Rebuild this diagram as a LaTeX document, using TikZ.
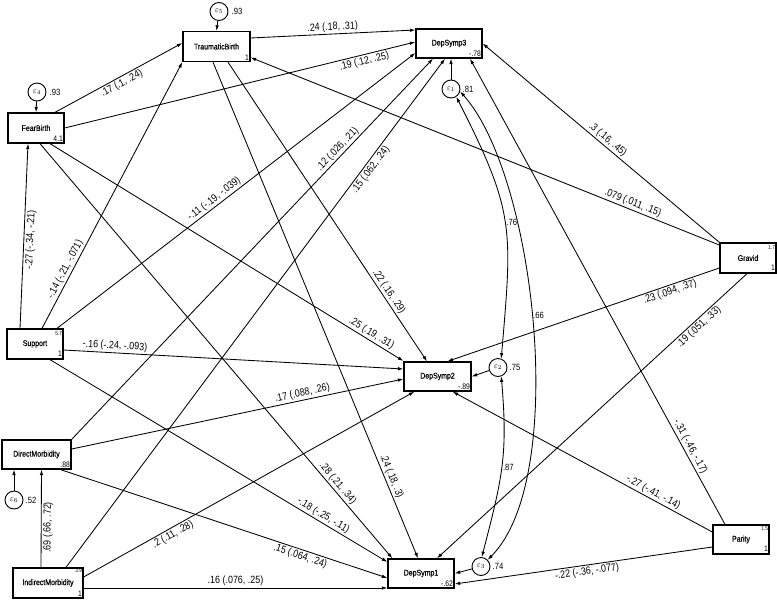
\documentclass[tikz,border=0pt]{standalone}
\usepackage{fontspec}
\setmainfont{Liberation Sans}[FakeStretch=0.85]
\newfontfamily\boxfont{Liberation Sans}[FakeStretch=0.85,FakeBold=0.6]
\usetikzlibrary{arrows.meta,calc}
\begin{document}
\begin{tikzpicture}[x=1pt,y=-1pt,
  box/.style={draw,line width=1.3pt,inner sep=0pt,font=\boxfont\fontsize{8.2}{9}\selectfont},
  err/.style={draw,circle,line width=0.9pt,minimum size=18pt,inner sep=0pt,font=\fontsize{8}{9}\selectfont},
  pth/.style={line width=0.85pt,-{Latex[length=5.5pt,width=3.6pt]}},
  cov/.style={line width=0.85pt,{Latex[length=5.5pt,width=3.6pt]}-{Latex[length=5.5pt,width=3.6pt]}},
  lab/.style={font=\fontsize{10.5}{11}\selectfont,inner sep=1.5pt,sloped},
  clab/.style={font=\fontsize{9}{10}\selectfont,inner sep=1pt,anchor=west},
  num/.style={font=\fontsize{8}{9}\selectfont,inner sep=0pt},
  sml/.style={font=\fontsize{5.5}{6}\selectfont,inner sep=0pt},
  var/.style={font=\fontsize{9}{10}\selectfont,inner sep=0pt,anchor=west},
]
\fill[white] (0,0) rectangle (777,600);
\useasboundingbox (0,0) rectangle (777,600);

% observed variables
\node[box,minimum width=67pt,minimum height=30pt] (tb) at (216.5,46.5) {TraumaticBirth};
\node[box,minimum width=56pt,minimum height=30pt] (fb) at (36,128) {FearBirth};
\node[box,minimum width=66pt,minimum height=29pt] (ds3) at (449,43.5) {DepSymp3};
\node[box,minimum width=56pt,minimum height=30pt] (gr) at (748,258) {Gravid};
\node[box,minimum width=56pt,minimum height=30pt] (su) at (35,344) {Support};
\node[box,minimum width=67pt,minimum height=29pt] (ds2) at (437.5,376.5) {DepSymp2};
\node[box,minimum width=66pt,minimum height=29pt] (ds1) at (421,573.5) {DepSymp1};
\node[box,minimum width=69pt,minimum height=29pt] (dm) at (36.5,454.5) {DirectMorbidity};
\node[box,minimum width=70pt,minimum height=30pt] (im) at (48,583) {IndirectMorbidity};
\node[box,minimum width=56pt,minimum height=29pt] (pa) at (741,539.5) {Parity};

% corner values
\node[num,anchor=south east] (tbv) at ([xshift=-1.5pt,yshift=1.5pt]tb.south east) {1};
\node[num,anchor=south east] (fbv) at ([xshift=-1.5pt,yshift=1.5pt]fb.south east) {4.1};
\node[num,anchor=south east] (ds3v) at ([xshift=-1.5pt,yshift=1.5pt]ds3.south east) {-.78};
\node[num,anchor=south east] (grv) at ([xshift=-1.5pt,yshift=2.5pt]gr.south east) {1};
\node[sml,anchor=north east] (grm) at ([xshift=-1.5pt,yshift=-3pt]gr.north east) {1.7};
\node[num,anchor=south east] (suv) at ([xshift=-1.5pt,yshift=2.5pt]su.south east) {1};
\node[sml,anchor=north east] (sum) at ([xshift=-1.5pt,yshift=-3pt]su.north east) {5.7};
\node[num,anchor=south east] (ds2v) at ([xshift=-1.5pt,yshift=1.5pt]ds2.south east) {-.89};
\node[num,anchor=south east] (ds1v) at ([xshift=-1.5pt,yshift=1.5pt]ds1.south east) {-.62};
\node[num,anchor=south east] (dmv) at ([xshift=-1.5pt,yshift=1.5pt]dm.south east) {.88};
\node[num,anchor=south east] (imv) at ([xshift=-1.5pt,yshift=1.5pt]im.south east) {1};
\node[sml,anchor=north east] (imm) at ([xshift=-1.5pt,yshift=-1.5pt]im.north east) {3.9};
\node[num,anchor=south east] (pav) at ([xshift=-1.5pt,yshift=2.5pt]pa.south east) {1};
\node[sml,anchor=north east] (pam) at ([xshift=-1.5pt,yshift=-2pt]pa.north east) {1.5};

% error terms
\node[err] (e5) at (219,11.5) {$\varepsilon_5$};
\node[err] (e4) at (37,92) {$\varepsilon_4$};
\node[err] (e1) at (451,89) {$\varepsilon_1$};
\node[err] (e2) at (498,367.5) {$\varepsilon_2$};
\node[err] (e3) at (481,566.5) {$\varepsilon_3$};
\node[err] (e6) at (14,500) {$\varepsilon_6$};
\node[var] (e5v) at ([xshift=3pt]e5.east) {.93};
\node[var] (e4v) at ([xshift=3pt]e4.east) {.93};
\node[var] (e1v) at ([xshift=2pt]e1.east) {.81};
\node[var] (e2v) at ([xshift=2pt]e2.east) {.75};
\node[var] (e3v) at ([xshift=2pt]e3.east) {.74};
\node[var] (e6v) at ([xshift=2pt]e6.east) {.52};

% error arrows
\draw[pth] (e5) -- (tb.north);
\draw[pth] (e4) -- (fb.north);
\draw[pth] (e1) -- ([xshift=2pt]ds3.south);
\draw[pth] (e2) -- (ds2.east);
\draw[pth] (e3) -- (ds1.east);
\draw[pth] (e6) -- ([xshift=-22.5pt]dm.south);

% paths
\draw[pth] ([xshift=19pt]fb.north) -- ([yshift=3.5pt]tb.west) node[lab,pos=0.5,below]{.17 (.1, .24)};
\draw[pth] (fb.east) -- ([yshift=1.5pt]ds3.west) node[lab,pos=0.85,below]{.19 (.12, .25)};
\draw[pth] ([yshift=8.5pt]tb.east) -- ([yshift=13.5pt]ds3.west) node[lab,pos=0.5,above]{.24 (.18, .31)};
\draw[pth] ([xshift=-15pt]su.north) -- ([xshift=-8pt]fb.south) node[lab,pos=0.48,below]{-.27 (-.34, -.21)};
\draw[pth] ([xshift=7pt]su.north) -- (tb.south west) node[lab,pos=0.21,above]{-.14 (-.21, -.071)};
\draw[pth] ([xshift=22pt]su.north) -- ([yshift=-9.5pt]ds3.west) node[lab,pos=0.45,above]{-.11 (-.19, -.039)};
\draw[pth] (dm.north east) -- ([xshift=-16pt]ds3.south) node[lab,pos=0.75,above]{.12 (.026, .21)};
\draw[pth] ([xshift=18pt]im.north) -- ([xshift=-4pt]ds3.south) node[lab,pos=0.79,below]{.15 (.062, .24)};
\draw[pth] (gr.north west) -- (ds3.east) node[lab,pos=0.49,above]{.3 (.16, .45)};
\draw[pth] ([xshift=-16pt]pa.north) -- ([xshift=21pt]ds3.south) node[lab,pos=0.16,above]{-.31 (-.46, -.17)};
\draw[pth] ([yshift=13pt]gr.west) -- ([yshift=-11pt]tb.east) node[lab,pos=0.19,above]{.079 (.011, .15)};
\draw[pth] ([xshift=14pt]fb.south) -- ([yshift=15.5pt]ds2.west) node[lab,pos=0.9,above]{.25 (.19, .31)};
\draw[pth] ([xshift=4pt]fb.south) -- ([xshift=5pt]ds1.north west) node[lab,pos=0.83,above]{.28 (.21, .34)};
\draw[pth] ([xshift=11.5pt]tb.south) -- ([xshift=-10.5pt]ds2.north) node[lab,pos=0.78,above]{.22 (.16, .29)};
\draw[pth] ([xshift=-3.5pt]tb.south) -- ([xshift=-3pt]ds1.north) node[lab,pos=0.84,above]{.24 (.18, .3)};
\draw[pth] ([yshift=-6pt]su.east) -- ([yshift=7.5pt]ds2.west) node[lab,pos=0.15,above]{-.16 (-.24, -.093)};
\draw[pth] ([yshift=5.5pt]dm.east) -- ([yshift=-2.5pt]ds2.west) node[lab,pos=0.7,above]{.17 (.088, .26)};
\draw[pth] ([yshift=6pt]im.east) -- ([xshift=11pt]ds2.south west) node[lab,pos=0.26,below]{.2 (.11, .28)};
\draw[pth] ([yshift=-10pt]gr.west) -- ([xshift=10pt]ds2.north) node[lab,pos=0.19,below]{.23 (.094, .37)};
\draw[pth] ([yshift=7.5pt]pa.west) -- ([xshift=-19pt]ds2.south east) node[lab,pos=0.24,above]{-.27 (-.41, -.14)};
\draw[pth] ([xshift=15pt]su.south) -- ([yshift=11.5pt]ds1.west) node[lab,pos=0.8,above]{-.18 (-.25, -.11)};
\draw[pth] ([xshift=-11pt]dm.south east) -- ([yshift=-4.5pt]ds1.west) node[lab,pos=0.74,below]{.15 (.064, .24)};
\draw[pth] ([yshift=-5pt]im.east) -- ([yshift=-14.5pt]ds1.west) node[lab,pos=0.5,above]{.16 (.076, .25)};
\draw[pth] ([xshift=-1pt]gr.south) -- ([xshift=16pt]ds1.north) node[lab,pos=0.17,below]{.19 (.051, .33)};
\draw[pth] ([yshift=-7.5pt]pa.west) -- ([yshift=-10.5pt]ds1.east) node[lab,pos=0.49,below]{-.22 (-.36, -.077)};
\draw[pth] ([xshift=-7pt]im.north) -- ([xshift=5pt]dm.south) node[lab,pos=0.41,below]{.69 (.66, .72)};

% covariances
\draw[cov] (e1.-56) .. controls +(59,116) and +(11,-130) .. (e2.70) node[clab,pos=0.5]{.76};
\draw[cov] (e1.-15) .. controls +(76,85) and +(81,-81) .. (e3.45) node[clab,pos=0.48]{.66};
\draw[cov] (e2.-70) .. controls +(7,80) and +(20,-78) .. (e3.85) node[clab,pos=0.5]{.87};
\end{tikzpicture}
\end{document}
